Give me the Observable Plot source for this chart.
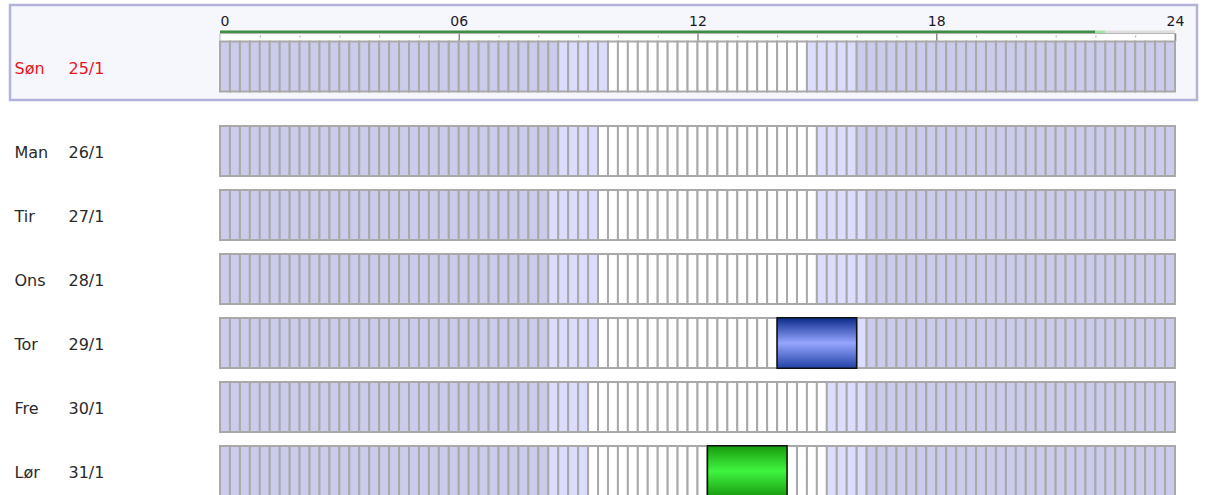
<!DOCTYPE html>
<html><head><meta charset="utf-8">
<script src="https://cdn.jsdelivr.net/npm/d3@7"></script>
<script src="https://cdn.jsdelivr.net/npm/@observablehq/plot@0.6"></script>
<style>html,body{margin:0;padding:0;background:#fff;} #chart{width:1205px;height:495px;overflow:hidden}</style>
</head><body><div id="chart"></div><script>
// ---- data ----
const days = ["Søn", "Man", "Tir", "Ons", "Tor", "Fre", "Lør"];
const dates = ["25/1", "26/1", "27/1", "28/1", "29/1", "30/1", "31/1"];
const dawn    = ["08:30", "08:30", "08:15", "08:15", "08:15", "08:15", "08:15"];
const sunrise = ["09:45", "09:30", "09:30", "09:30", "09:30", "09:15", "09:15"];
const sunset  = ["14:45", "15:00", "15:00", "15:00", "15:00", "15:15", "15:15"];
const dusk    = ["16:00", "16:00", "16:15", "16:15", "16:15", "16:15", "16:15"];
const eventDays  = ["29/1", "31/1"];
const eventStart = ["14:00", "12:15"];
const eventEnd   = ["16:00", "14:15"];
const eventKind  = ["blue", "green"];
const nowTime = "22:00";
const slotMinutes = 15;
const tickHours = [0, 6, 12, 18, 24];
const tickLabels = ["0", "06", "12", "18", "24"];
const selectedDay = "25/1";

// ---- helpers / layout ----
const hrs = t => { const [h, m] = t.split(":").map(Number); return h + m / 60; };
const slotH = slotMinutes / 60;
const nSlots = 24 / slotH;
const rowTop = i => i === 0 ? 40.5 : 125 + (i - 1) * 64;
const rowH = 52;
const COL = {night: "#cbcbec", twilight: "#dcdcfc", day: "#ffffff"};

const cells = [];
days.forEach((d, i) => {
  const a = hrs(dawn[i]), b = hrs(sunrise[i]), c = hrs(sunset[i]), e = hrs(dusk[i]);
  for (let s = 0; s < nSlots; s++) {
    const t = s * slotH;
    let kind = "day";
    if (t < a || t >= e) kind = "night";
    else if (t < b || t >= c) kind = "twilight";
    cells.push({i, x1: t, x2: t + slotH, fill: COL[kind]});
  }
});
const events = eventDays.map((d, k) => ({
  i: dates.indexOf(d), x1: hrs(eventStart[k]), x2: hrs(eventEnd[k]), fill: `url(#grad-${eventKind[k]})`
}));
const rows = days.map((d, i) => ({i, day: d, date: dates[i], sel: dates[i] === selectedDay}));
const now = hrs(nowTime);
const progress = [
  {x1: 0, x2: now, fill: "#3f8d42"},
  {x1: now, x2: now + slotH, fill: "#a4e2a4"},
  {x1: now + slotH, x2: 24, fill: "#dedede"}
];
const minorHours = d3.range(1, 24).filter(h => h % 6 !== 0);

const defs = () => {
  const g = d3.create("svg:defs");
  const mk = (id, stops) => {
    const lg = g.append("linearGradient").attr("id", id).attr("x1", 0).attr("x2", 0).attr("y1", 0).attr("y2", 1);
    stops.forEach(([o, c]) => lg.append("stop").attr("offset", o).attr("stop-color", c));
  };
  mk("grad-blue", [[0, "#0b2a8a"], [0.5, "#96a6ff"], [1, "#2242a6"]]);
  mk("grad-green", [[0, "#179a0d"], [0.5, "#40f540"], [1, "#1a9c10"]]);
  return g.node();
};

const chart = Plot.plot({
  width: 1205, height: 495,
  margin: 0,
  x: {domain: [0, 24], range: [220, 1175], axis: null},
  y: {type: "identity", axis: null},
  color: {type: "identity"},
  style: {fontFamily: "'DejaVu Sans', Verdana, sans-serif", background: "transparent", overflow: "visible"},
  marks: [
    defs,
    // selected-day highlight box
    Plot.frame({fill: "#f6f6fd", stroke: "#b2b2da", strokeWidth: 2.5, insetLeft: 9.5, insetRight: 8.5, insetTop: 4.5, insetBottom: 495 - 99.5}),
    // top time strip
    Plot.rect(progress, {x1: "x1", x2: "x2", y1: 30.5, y2: 33.5, fill: "fill"}),
    Plot.rect([0], {x1: 0, x2: 24, y1: 33.5, y2: 41.5, fill: "#ffffff", stroke: "#b5b5b5", strokeWidth: 1}),
    Plot.ruleX(minorHours, {x: d => d, y1: 35.5, y2: 37.5, stroke: "#a8a8a8", strokeWidth: 1}),
    Plot.ruleX(tickHours.slice(1), {x: d => d, y1: 33.5, y2: 41.5, stroke: "#8a8a8a", strokeWidth: 1.5}),
    Plot.text(tickLabels.slice(0, 1), {x: tickHours[0], y: 21, text: d => d, textAnchor: "start", fontSize: 14, fill: "#1a1a2a"}),
    Plot.text(tickLabels.slice(1), {x: (d, k) => tickHours[k + 1], y: 21, text: d => d, textAnchor: "middle", fontSize: 14, fill: "#1a1a2a"}),
    // slot cells
    Plot.rect(cells, {x1: "x1", x2: "x2", y1: d => rowTop(d.i) + 1, y2: d => rowTop(d.i) + rowH - 1, fill: "fill", stroke: "#a9a9a9", strokeWidth: 2}),
    // bookings
    Plot.rect(events, {x1: "x1", x2: "x2", y1: d => rowTop(d.i) + 0.75, y2: d => rowTop(d.i) + rowH - 0.75, fill: "fill", stroke: "#111", strokeWidth: 1.5}),
    // labels
    Plot.text(rows, {frameAnchor: "left", dx: 14, y: d => rowTop(d.i) + rowH / 2 + 1.5, text: "day", textAnchor: "start", fontSize: 16, fill: d => d.sel ? "#e8141a" : "#2a2a2a"}),
    Plot.text(rows, {frameAnchor: "left", dx: 68, y: d => rowTop(d.i) + rowH / 2 + 1.5, text: "date", textAnchor: "start", fontSize: 16, fill: d => d.sel ? "#e8141a" : "#2a2a2a"})
  ]
});
document.getElementById("chart").appendChild(chart);
</script></body></html>
